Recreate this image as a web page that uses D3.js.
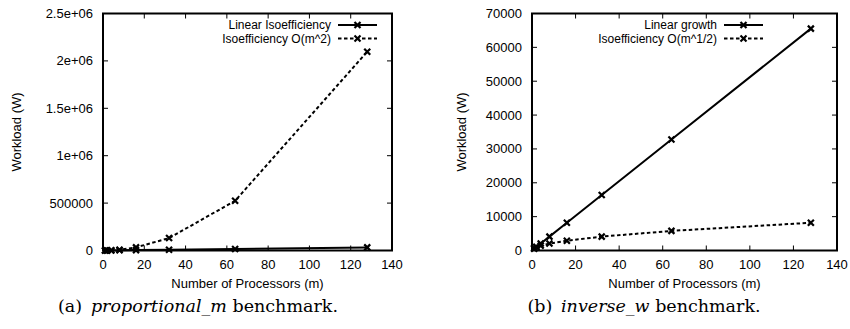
<!DOCTYPE html>
<html>
<head>
<meta charset="utf-8">
<script src="https://cdn.jsdelivr.net/npm/d3@7"></script>
<style>
  body { margin: 0; background: #fff; }
  svg { display: block; }
  .tick-label, .axis-title { font-family: "Liberation Sans", Arial, sans-serif; font-size: 13px; fill: #000; }
  .legend-text { font-family: "Liberation Sans", Arial, sans-serif; font-size: 12px; fill: #000; }
  .caption { font-family: "DejaVu Serif", "Liberation Serif", serif; font-size: 17.5px; fill: #000; }
</style>
</head>
<body>
<svg id="chart" width="850" height="329"></svg>
<script>
// processors (x values shared by every series)
const procs = [1, 2, 4, 8, 16, 32, 64, 128];

// (a) proportional_m
const propLinear = [256, 512, 1024, 2048, 4096, 8192, 16384, 32768];
const propQuad = [128, 512, 2048, 8192, 32768, 131072, 524288, 2097152];
const propYTicks = [0, 500000, 1000000, 1500000, 2000000, 2500000];
const propYLabels = ["0", "500000", "1e+06", "1.5e+06", "2e+06", "2.5e+06"];

// (b) inverse_w
const invLinear = [512, 1024, 2048, 4096, 8192, 16384, 32768, 65536];
const invSqrt = [724, 1024, 1448, 2048, 2896, 4096, 5793, 8192];
const invYTicks = [0, 10000, 20000, 30000, 40000, 50000, 60000, 70000];
const invYLabels = ["0", "10000", "20000", "30000", "40000", "50000", "60000", "70000"];

const xTicks = [0, 20, 40, 60, 80, 100, 120, 140];

const svg = d3.select("#chart");

function cross(g, x, y) {
  const s = 3;
  g.append("path")
    .attr("d", `M${x - s},${y - s}L${x + s},${y + s}M${x - s},${y + s}L${x + s},${y - s}`)
    .attr("stroke", "#000")
    .attr("stroke-width", 2.2)
    .attr("fill", "none");
}

function drawChart(cfg) {
  const g = svg.append("g");
  const x = d3.scaleLinear().domain([0, 140]).range([cfg.left, cfg.right]);
  const y = d3.scaleLinear().domain([0, cfg.yMax]).range([250.5, 13.5]);

  // ticks (inward, mirrored)
  const tl = 5;
  xTicks.forEach((t) => {
    g.append("line").attr("x1", x(t)).attr("x2", x(t)).attr("y1", y(0)).attr("y2", y(0) - tl)
      .attr("stroke", "#000").attr("stroke-width", 1);
    g.append("line").attr("x1", x(t)).attr("x2", x(t)).attr("y1", y(cfg.yMax)).attr("y2", y(cfg.yMax) + tl)
      .attr("stroke", "#000").attr("stroke-width", 1);
    g.append("text").attr("class", "tick-label")
      .attr("x", x(t)).attr("y", 269)
      .attr("text-anchor", "middle").text(t);
  });
  cfg.yTicks.forEach((t, i) => {
    g.append("line").attr("x1", x(0)).attr("x2", x(0) + tl).attr("y1", y(t)).attr("y2", y(t))
      .attr("stroke", "#000").attr("stroke-width", 1);
    g.append("line").attr("x1", x(140)).attr("x2", x(140) - tl).attr("y1", y(t)).attr("y2", y(t))
      .attr("stroke", "#000").attr("stroke-width", 1);
    g.append("text").attr("class", "tick-label")
      .attr("x", cfg.left - 10).attr("y", y(t) + 4.5)
      .attr("text-anchor", "end").text(cfg.yLabels[i]);
  });

  // series
  const line = d3.line().x((d) => x(d[0])).y((d) => y(d[1]));
  cfg.series.forEach((s) => {
    const pts = procs.map((p, i) => [p, s.values[i]]);
    g.append("path")
      .attr("d", line(pts))
      .attr("fill", "none")
      .attr("stroke", "#000")
      .attr("stroke-width", 2)
      .attr("stroke-dasharray", s.dash ? "3.5,2.5" : null);
    pts.forEach((d) => cross(g, x(d[0]), y(d[1])));
  });

  // legend
  cfg.series.forEach((s, i) => {
    const ly = 25 + i * 13.5;
    g.append("text").attr("class", "legend-text")
      .attr("x", cfg.legendX).attr("y", ly + 4.3)
      .attr("text-anchor", "end").text(s.name);
    g.append("line")
      .attr("x1", cfg.legendX + 7).attr("x2", cfg.legendX + 46)
      .attr("y1", ly).attr("y2", ly)
      .attr("stroke", "#000").attr("stroke-width", 2)
      .attr("stroke-dasharray", s.dash ? "3.5,2.5" : null);
    cross(g, cfg.legendX + 26.5, ly);
  });

  // frame
  g.append("rect")
    .attr("x", x(0)).attr("y", y(cfg.yMax))
    .attr("width", x(140) - x(0)).attr("height", y(0) - y(cfg.yMax))
    .attr("fill", "none").attr("stroke", "#000").attr("stroke-width", 2);

  // axis titles
  g.append("text").attr("class", "axis-title")
    .attr("x", (cfg.left + cfg.right) / 2).attr("y", 288)
    .attr("text-anchor", "middle").text("Number of Processors (m)");
  g.append("text").attr("class", "axis-title")
    .attr("transform", `translate(${cfg.yTitleX},${(y(0) + y(cfg.yMax)) / 2}) rotate(-90)`)
    .attr("text-anchor", "middle").text("Workload (W)");

  // caption
  const cap = g.append("text").attr("class", "caption")
    .attr("x", cfg.captionX).attr("y", 312).attr("text-anchor", "middle");
  cap.append("tspan").text(cfg.capLabel + "\u2002");
  cap.append("tspan").attr("font-style", "italic").text(cfg.capName);
  cap.append("tspan").text(" benchmark.");
}

drawChart({
  left: 103, right: 392, yMax: 2500000,
  yTicks: propYTicks, yLabels: propYLabels,
  series: [
    { name: "Linear Isoefficiency", values: propLinear, dash: false },
    { name: "Isoefficiency O(m^2)", values: propQuad, dash: true },
  ],
  legendX: 331, yTitleX: 21, captionX: 198,
  capLabel: "(a)", capName: "proportional_m",
});

drawChart({
  left: 532, right: 837, yMax: 70000,
  yTicks: invYTicks, yLabels: invYLabels,
  series: [
    { name: "Linear growth", values: invLinear, dash: false },
    { name: "Isoefficiency O(m^1/2)", values: invSqrt, dash: true },
  ],
  legendX: 717, yTitleX: 466, captionX: 644,
  capLabel: "(b)", capName: "inverse_w",
});
</script>
</body>
</html>
